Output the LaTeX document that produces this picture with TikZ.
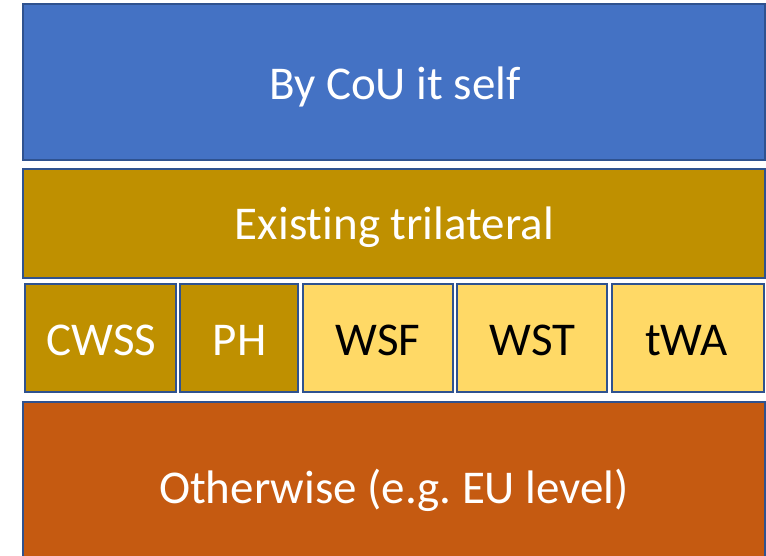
\documentclass[tikz,border=0pt]{standalone}
\usepackage{fontspec}
\setmainfont{Carlito}[Ligatures=NoCommon]
\frenchspacing
\definecolor{bblue}{HTML}{4472C4}
\definecolor{bgold}{HTML}{BF9000}
\definecolor{byellow}{HTML}{FFD966}
\definecolor{borange}{HTML}{C55A11}
\definecolor{bline}{HTML}{2F528F}
\tikzset{
  cellbox/.style={draw=bline, line width=2.2pt, inner sep=0pt, outer sep=0pt},
  lbl/.style={anchor=base, inner sep=0pt, font=\fontsize{47}{52}\selectfont},
  lighttext/.style={text=white},
  darktext/.style={text=black}
}
\begin{document}
\begin{tikzpicture}[x=1pt,y=-1pt]
\useasboundingbox (0,0) rectangle (766,555);
\clip (0,0) rectangle (766,555);
\node[cellbox, fill=bblue, minimum width=742pt, minimum height=156pt] (cou) at (394,82) {};
\node[cellbox, fill=bgold, minimum width=742pt, minimum height=109pt] (tri) at (394,223.5) {};
\node[cellbox, fill=bgold, minimum width=151pt, minimum height=108pt] (cwss) at (100.5,338) {};
\node[cellbox, fill=bgold, minimum width=118pt, minimum height=108pt] (ph) at (239,338) {};
\node[cellbox, fill=byellow, minimum width=150pt, minimum height=108pt] (wsf) at (378,338) {};
\node[cellbox, fill=byellow, minimum width=150pt, minimum height=108pt] (wst) at (532,338) {};
\node[cellbox, fill=byellow, minimum width=152pt, minimum height=108pt] (twa) at (688,338) {};
\node[cellbox, fill=borange, minimum width=742pt, minimum height=168pt] (other) at (394,486) {};
\node[lbl, lighttext] (coutext) at (395,99.3) {By CoU it self};
\node[lbl, lighttext] (tritext) at (394.5,239.3) {Existing trilateral};
\node[lbl, lighttext] (cwsstext) at (101.5,355) {CWSS};
\node[lbl, lighttext] (phtext) at (239.5,355) {PH};
\node[lbl, darktext] (wsftext) at (378,355) {WSF};
\node[lbl, darktext] (wsttext) at (532.5,355) {WST};
\node[lbl, darktext] (twatext) at (686.5,355) {tWA};
\node[lbl, lighttext] (othertext) at (394,503) {Otherwise (e.g. EU level)};
\end{tikzpicture}
\end{document}
